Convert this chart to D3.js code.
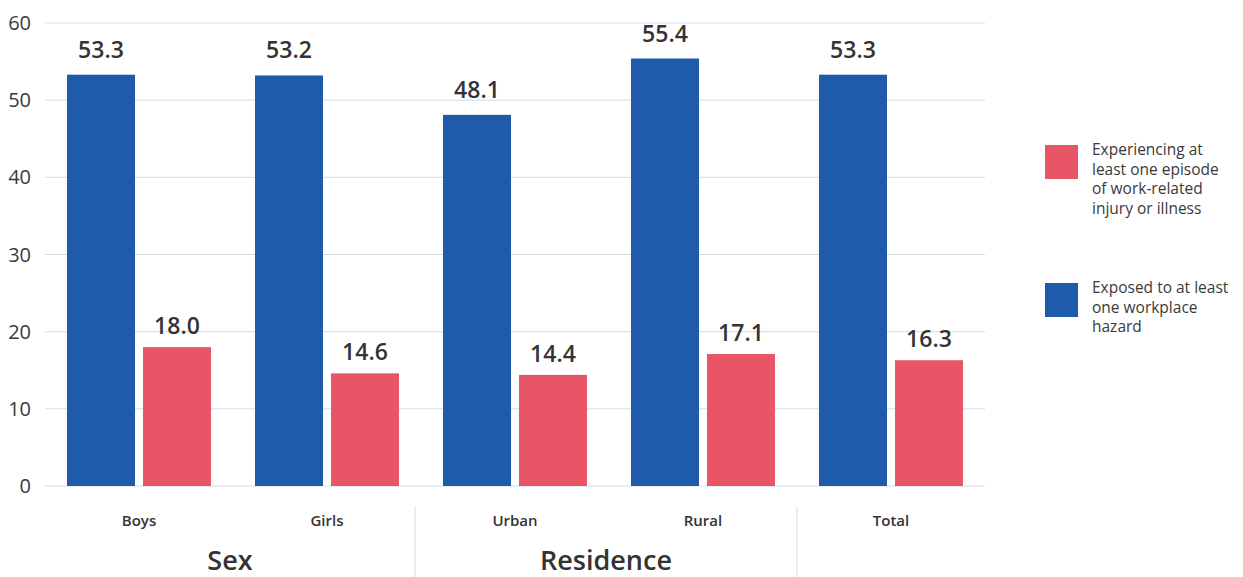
<!DOCTYPE html>
<html>
<head>
<meta charset="utf-8">
<script src="https://cdnjs.cloudflare.com/ajax/libs/d3/7.8.5/d3.min.js"></script>
<style>
  body { margin: 0; background: #fff; }
  svg text { font-family: "Open Sans", "Noto Sans", sans-serif; }
</style>
</head>
<body>
<script>
var w = 1243;
var h = 577;
var margin = { top: 23, right: 258, bottom: 91, left: 45 };

var categories = ["Boys", "Girls", "Urban", "Rural", "Total"];
var hazard = [53.3, 53.2, 48.1, 55.4, 53.3];
var injury = [18.0, 14.6, 14.4, 17.1, 16.3];
var yTicks = [0, 10, 20, 30, 40, 50, 60];
var groups = [
    { name: "Sex", from: 0, to: 1 },
    { name: "Residence", from: 2, to: 3 }
];
var legendLines = [
    ["Experiencing at", "least one episode", "of work-related", "injury or illness"],
    ["Exposed to at least", "one workplace", "hazard"]
];

var blue = "#1f5bab";
var red = "#e85566";

var iw = w - margin.left - margin.right;
var ih = h - margin.top - margin.bottom;

var svg = d3.select("body")
    .append("svg")
    .attr("width", w)
    .attr("height", h);

var g = svg.append("g")
    .attr("transform", "translate(" + margin.left + "," + margin.top + ")");

var xScale = d3.scaleBand()
    .domain(categories)
    .range([0, iw]);

var yScale = d3.scaleLinear()
    .domain([0, 60])
    .range([ih, 0]);

// grid lines + y labels
g.selectAll(".grid")
    .data(yTicks)
    .enter()
    .append("line")
    .attr("x1", 0)
    .attr("x2", iw)
    .attr("y1", function (d) { return yScale(d); })
    .attr("y2", function (d) { return yScale(d); })
    .attr("stroke", "#d3dde5")
    .attr("stroke-width", 1);

g.selectAll(".ylab")
    .data(yTicks)
    .enter()
    .append("text")
    .attr("x", -14)
    .attr("y", function (d) { return yScale(d); })
    .attr("dy", "0.35em")
    .attr("text-anchor", "end")
    .attr("font-size", 20)
    .attr("fill", "#3a3a3a")
    .text(function (d) { return d; });

var barW = 68;
var gap = 8;

// hazard bars (blue)
g.selectAll(".hz")
    .data(hazard)
    .enter()
    .append("rect")
    .attr("x", function (d, i) { return xScale(categories[i]) + xScale.bandwidth() / 2 - gap / 2 - barW; })
    .attr("y", function (d) { return yScale(d); })
    .attr("width", barW)
    .attr("height", function (d) { return ih - yScale(d); })
    .attr("fill", blue);

// injury bars (red)
g.selectAll(".inj")
    .data(injury)
    .enter()
    .append("rect")
    .attr("x", function (d, i) { return xScale(categories[i]) + xScale.bandwidth() / 2 + gap / 2; })
    .attr("y", function (d) { return yScale(d); })
    .attr("width", barW)
    .attr("height", function (d) { return ih - yScale(d); })
    .attr("fill", red);

// value labels
function valueLabels(data, offset, lift) {
    g.selectAll(null)
        .data(data)
        .enter()
        .append("text")
        .attr("x", function (d, i) { return xScale(categories[i]) + xScale.bandwidth() / 2 + offset; })
        .attr("y", function (d) { return yScale(d) - lift; })
        .attr("text-anchor", "middle")
        .attr("font-size", 23)
        .attr("font-weight", 600)
        .attr("fill", "#333")
        .text(function (d) { return d.toFixed(1); });
}
valueLabels(hazard, -gap / 2 - barW / 2, 17);
valueLabels(injury, gap / 2 + barW / 2, 13);

// category labels
g.selectAll(".cat")
    .data(categories)
    .enter()
    .append("text")
    .attr("x", function (d) { return xScale(d) + xScale.bandwidth() / 2; })
    .attr("y", ih + 40)
    .attr("text-anchor", "middle")
    .attr("font-size", 15)
    .attr("font-weight", 600)
    .attr("fill", "#333")
    .text(function (d) { return d; });

// group labels
g.selectAll(".grp")
    .data(groups)
    .enter()
    .append("text")
    .attr("x", function (d) {
        var a = xScale(categories[d.from]) - 6;
        var b = xScale(categories[d.to]) + xScale.bandwidth();
        return (a + b) / 2;
    })
    .attr("y", ih + 84)
    .attr("text-anchor", "middle")
    .attr("font-size", 27)
    .attr("font-weight", 600)
    .attr("fill", "#333")
    .text(function (d) { return d.name; });

// dividers between groups
var dividers = [categories[2], categories[4]];
g.selectAll(".div")
    .data(dividers)
    .enter()
    .append("line")
    .attr("x1", function (d, i) { return xScale(d) - (i === 0 ? 6 : 0); })
    .attr("x2", function (d, i) { return xScale(d) - (i === 0 ? 6 : 0); })
    .attr("y1", ih + 21)
    .attr("y2", h - margin.top)
    .attr("stroke", "#d3dde5")
    .attr("stroke-width", 1);

// legend
var legend = svg.append("g").attr("transform", "translate(1045,145)");
var legendColors = [red, blue];
var legendY = [0, 138];
legendLines.forEach(function (lines, k) {
    var lg = legend.append("g").attr("transform", "translate(0," + legendY[k] + ")");
    lg.append("rect")
        .attr("width", 33)
        .attr("height", 34)
        .attr("fill", legendColors[k]);
    lg.append("text")
        .attr("x", 47)
        .attr("y", 10)
        .attr("font-size", 15.5)
        .attr("fill", "#3a3a3a")
        .selectAll("tspan")
        .data(lines)
        .enter()
        .append("tspan")
        .attr("x", 47)
        .attr("dy", function (d, i) { return i === 0 ? 0 : 19.5; })
        .text(function (d) { return d; });
});
</script>
</body>
</html>
